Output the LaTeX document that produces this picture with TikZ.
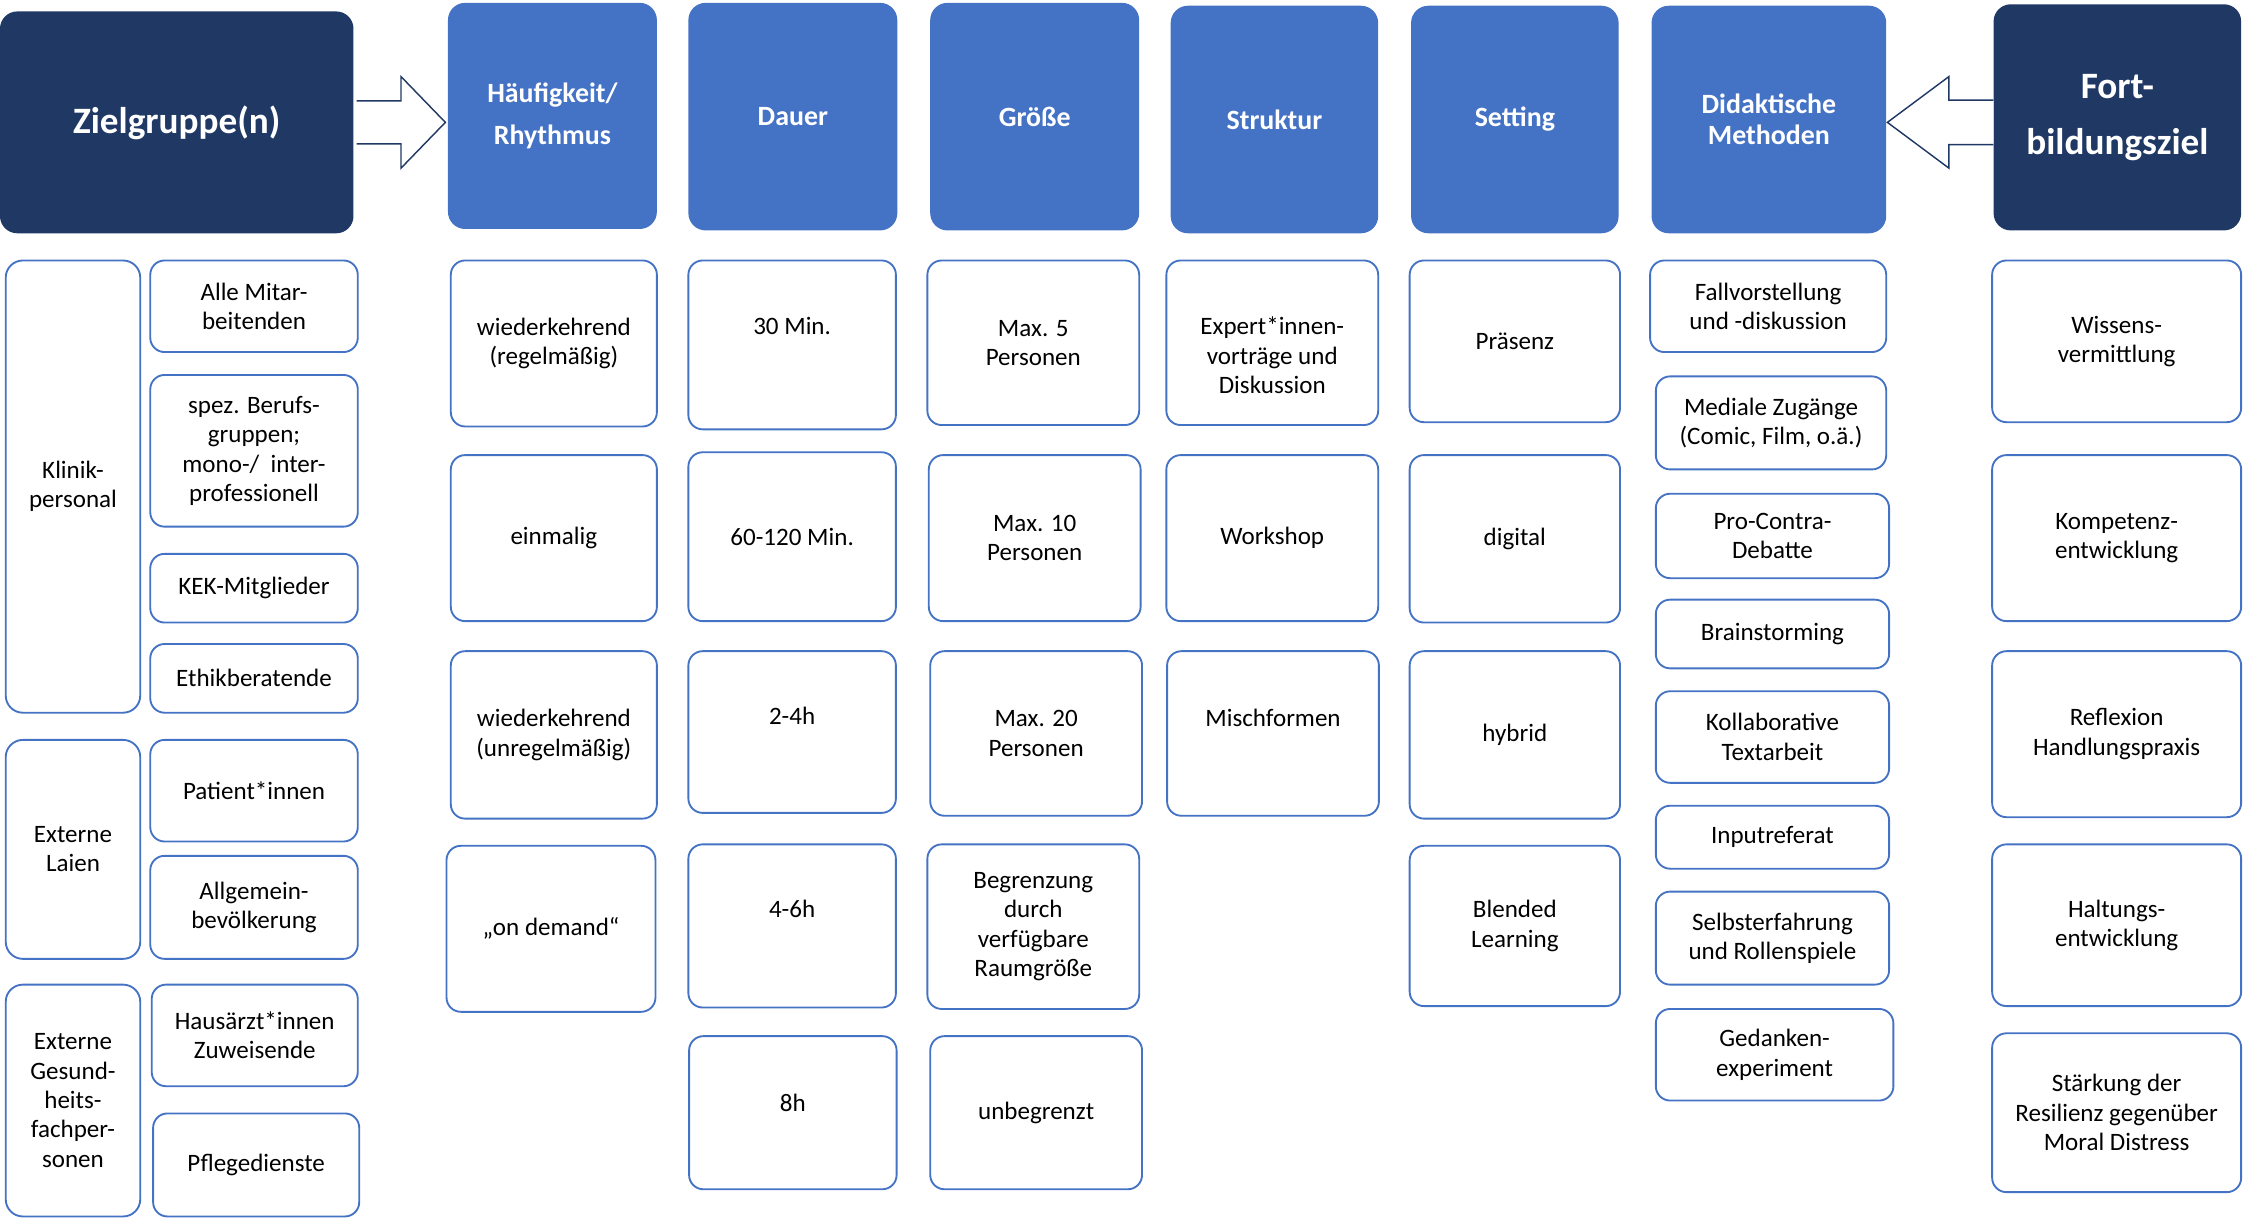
\documentclass[tikz,border=0pt]{standalone}
\usepackage{fontspec}
\setmainfont{Carlito}
\usepackage{tikz}

\definecolor{navy}{HTML}{203864}
\definecolor{hdblue}{HTML}{4472C4}

\tikzset{
	cellbox/.style={draw=hdblue, line width=1.3pt, rounded corners=10pt, align=center, inner sep=2pt, font=\fontsize{17.5}{20.5}\selectfont},
	headbox/.style={fill=hdblue, rounded corners=12pt, text=white, align=center, font=\bfseries\fontsize{19.5}{22}\selectfont},
	goalbox/.style={headbox, fill=navy, font=\bfseries\fontsize{26}{39}\selectfont},
	sz/.style 2 args={minimum width=#1pt, minimum height=#2pt},
	hollow/.style={draw=navy, line width=1pt, fill=white, line join=miter},
}

\begin{document}
\begin{tikzpicture}[x=1pt, y=-1pt]
	\useasboundingbox (0,0) rectangle (1568,852);
	% header row
	\node[goalbox, sz={247}{155}] (zg) at (123.5,85.5) {Zielgruppe(n)};
	\node[headbox, sz={146}{158}] (hr) at (386,81) {Häufigkeit/\\[7pt]Rhythmus};
	\node[headbox, sz={146}{159}] (da) at (554,81.5) {Dauer};
	\node[headbox, sz={146}{159}] (gr) at (723,81.5) {Größe};
	\node[headbox, sz={145}{159}] (st) at (890.5,83.5) {Struktur};
	\node[headbox, sz={145}{159}] (se) at (1058.5,83.5) {Setting};
	\node[headbox, sz={164}{159}] (dm) at (1236,83.5) {Didaktische\\Methoden};
	\node[goalbox, sz={173}{158}] (fz) at (1479.5,82) {Fort-\\bildungsziel};
	\draw[hollow] (zg.east) ++(2,-15) -- ++(31,0) -- ++(0,-17) -- ++(31,32) -- ++(-31,32) -- ++(0,-17) -- ++(-31,0);
	\draw[hollow] (fz.west) ++(0,-12) -- ++(-31,0) -- ++(0,-16.5) -- ++(-43,32) -- ++(43,32) -- ++(0,-16.5) -- ++(31,0);
	% Zielgruppe(n)
	\node[cellbox, rounded corners=12pt, sz={94}{316}] (kp) at (51,340) {Klinik-\\personal};
	\node[cellbox, rounded corners=12pt, sz={94}{153}] (el) at (51,593.5) {Externe\\Laien};
	\node[cellbox, rounded corners=12pt, sz={94}{162}] (eg) at (51,769) {Externe\\Gesund-\\heits-\\fachper-\\sonen};
	\node[cellbox, sz={145}{64}] (am) at (177.5,214) {Alle Mitar-\\beitenden};
	\node[cellbox, sz={145}{106}] (sb) at (177.5,315) {spez. Berufs-\\gruppen;\\mono-/\ \ inter-\\professionell};
	\node[cellbox, sz={145}{48}] (kek) at (177.5,411) {KEK-Mitglieder};
	\node[cellbox, sz={145}{48}] (eb) at (177.5,474) {Ethikberatende};
	\node[cellbox, sz={145}{71}] (pat) at (177.5,552.5) {Patient*innen};
	\node[cellbox, sz={145}{72}] (av) at (177.5,634) {Allgemein-\\bevölkerung};
	\node[cellbox, sz={144}{71}] (ha) at (178,723.5) {Hausärzt*innen\\Zuweisende};
	\node[cellbox, sz={144}{72}] (pf) at (179,814) {Pflegedienste};
	% Häufigkeit/Rhythmus
	\node[cellbox, sz={144}{116}] (wr) at (387,240) {wiederkehrend\\(regelmäßig)};
	\node[cellbox, sz={144}{116}] (ei) at (387,376) {einmalig};
	\node[cellbox, sz={144}{117}] (wu) at (387,513.5) {wiederkehrend\\(unregelmäßig)};
	\node[cellbox, sz={146}{116}] (od) at (385,649) {„on demand“};
	% Dauer
	\node[cellbox, sz={145}{118}, text depth=26pt] (m30) at (553.5,241) {30 Min.};
	\node[cellbox, sz={145}{118}] (m60) at (553.5,375) {60-120 Min.};
	\node[cellbox, sz={145}{113}, text depth=22pt] (h24) at (553.5,511.5) {2-4h};
	\node[cellbox, sz={145}{114}, text depth=24pt] (h46) at (553.5,647) {4-6h};
	\node[cellbox, sz={145}{107}, text depth=14pt] (h8) at (554,777.5) {8h};
	% Größe
	\node[cellbox, sz={148}{115}] (p5) at (722,239.5) {Max. 5\\Personen};
	\node[cellbox, sz={148}{116}] (p10) at (723,376) {Max. 10\\Personen};
	\node[cellbox, sz={148}{115}] (p20) at (724,512.5) {Max. 20\\Personen};
	\node[cellbox, sz={148}{115}] (pbg) at (722,647.5) {Begrenzung\\durch\\verfügbare\\Raumgröße};
	\node[cellbox, sz={148}{107}] (pun) at (724,777.5) {unbegrenzt};
	% Struktur
	\node[cellbox, sz={148}{115}] (ex) at (889,239.5) {\rule{0pt}{30pt}Expert*innen-\\vorträge und\\Diskussion};
	\node[cellbox, sz={148}{116}] (ws) at (889,376) {Workshop};
	\node[cellbox, sz={148}{115}, text depth=22pt] (mf) at (889.5,512.5) {Mischformen};
	% Setting
	\node[cellbox, sz={147}{113}] (pr) at (1058.5,238.5) {Präsenz};
	\node[cellbox, sz={147}{117}] (dg) at (1058.5,376.5) {digital};
	\node[cellbox, sz={147}{117}] (hy) at (1058.5,513.5) {hybrid};
	\node[cellbox, sz={147}{112}] (bl) at (1058.5,647) {Blended\\Learning};
	% Didaktische Methoden
	\node[cellbox, sz={165}{64}] (fv) at (1235.5,214) {Fallvorstellung\\und -diskussion};
	\node[cellbox, sz={161}{65}] (mz) at (1237.5,295.5) {Mediale Zugänge\\(Comic, Film, o.ä.)};
	\node[cellbox, sz={163}{59}] (pc) at (1238.5,374.5) {Pro-Contra-\\Debatte};
	\node[cellbox, sz={163}{48}] (bs) at (1238.5,443) {Brainstorming};
	\node[cellbox, sz={163}{64}] (kt) at (1238.5,515) {Kollaborative\\Textarbeit};
	\node[cellbox, sz={163}{44}] (ir) at (1238.5,585) {Inputreferat};
	\node[cellbox, sz={163}{65}] (sr) at (1238.5,655.5) {Selbsterfahrung\\und Rollenspiele};
	\node[cellbox, sz={166}{64}] (ge) at (1240,737) {Gedanken-\\experiment};
	% Fortbildungsziel
	\node[cellbox, sz={174}{113}] (wv) at (1479,238.5) {Wissens-\\vermittlung};
	\node[cellbox, sz={174}{116}] (ke) at (1479,376) {Kompetenz-\\entwicklung};
	\node[cellbox, sz={174}{116}] (rh) at (1479,513) {Reflexion\\Handlungspraxis};
	\node[cellbox, sz={174}{113}] (he) at (1479,646.5) {Haltungs-\\entwicklung};
	\node[cellbox, sz={174}{111}] (sk) at (1479,777.5) {Stärkung der\\Resilienz gegenüber\\Moral Distress};
\end{tikzpicture}
\end{document}
